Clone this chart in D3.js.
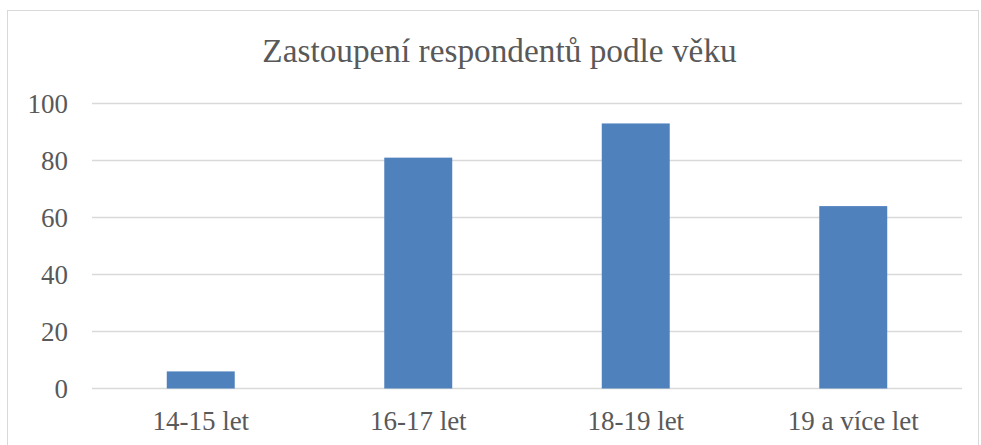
<!DOCTYPE html>
<html>
<head>
<meta charset="utf-8">
<script src="https://cdn.jsdelivr.net/npm/d3@7"></script>
<style>
  body { margin: 0; background: #fff; }
</style>
</head>
<body>
<div id="chart"></div>
<script>
var categories = ['14-15 let', '16-17 let', '18-19 let', '19 a více let'];
var values = [6, 81, 93, 64];
var yTicks = [0, 20, 40, 60, 80, 100];
var title = 'Zastoupení respondentů podle věku';

var width = 981, height = 445;
var margin = {top: 103.5, right: 19, bottom: 57, left: 92};
var font = '"Liberation Serif", "Times New Roman", serif';

var svg = d3.select('#chart').append('svg')
  .attr('width', width)
  .attr('height', height);

// chart frame
svg.append('rect')
  .attr('x', 7.5).attr('y', 10.5)
  .attr('width', 971).attr('height', 460)
  .attr('fill', 'none')
  .attr('stroke', '#d9d9d9')
  .attr('stroke-width', 1);

var x = d3.scaleBand()
  .domain(categories)
  .range([margin.left, width - margin.right])
  .paddingInner(0.6875)
  .paddingOuter(0.34375);

var y = d3.scaleLinear()
  .domain([0, 100])
  .range([height - margin.bottom + 0.5, margin.top]);

// gridlines
svg.append('g')
  .selectAll('line')
  .data(yTicks)
  .enter()
  .append('line')
  .attr('x1', margin.left)
  .attr('x2', width - margin.right)
  .attr('y1', function(d) { return y(d); })
  .attr('y2', function(d) { return y(d); })
  .attr('stroke', '#d9d9d9')
  .attr('stroke-width', 1.5);

// y labels
var yAxis = svg.append('g')
  .attr('transform', 'translate(' + (margin.left - 24) + ',0)')
  .call(d3.axisLeft(y).tickValues(yTicks).tickSize(0).tickPadding(0))
  .attr('font-family', font);
yAxis.select('.domain').remove();
yAxis.selectAll('text')
  .style('font-family', font)
  .style('font-size', '27px')
  .attr('fill', '#595959');

// bars
svg.append('g')
  .selectAll('rect')
  .data(values)
  .enter()
  .append('rect')
  .attr('x', function(d, i) { return x(categories[i]); })
  .attr('y', function(d) { return y(d); })
  .attr('width', x.bandwidth())
  .attr('height', function(d) { return y(0) - y(d); })
  .attr('fill', '#4f81bd');

// x labels
var xAxis = svg.append('g')
  .attr('transform', 'translate(0,' + y(0) + ')')
  .call(d3.axisBottom(x).tickSize(0))
  .attr('font-family', font);
xAxis.select('.domain').remove();
xAxis.selectAll('text')
  .attr('y', 41.5)
  .attr('dy', 0)
  .style('font-family', font)
  .style('font-size', '27px')
  .attr('fill', '#595959');

// title
svg.append('text')
  .attr('x', 499.5)
  .attr('y', 61.7)
  .attr('text-anchor', 'middle')
  .style('font-family', font)
  .style('font-size', '33.3px')
  .attr('fill', '#595959')
  .text(title);
</script>
</body>
</html>
